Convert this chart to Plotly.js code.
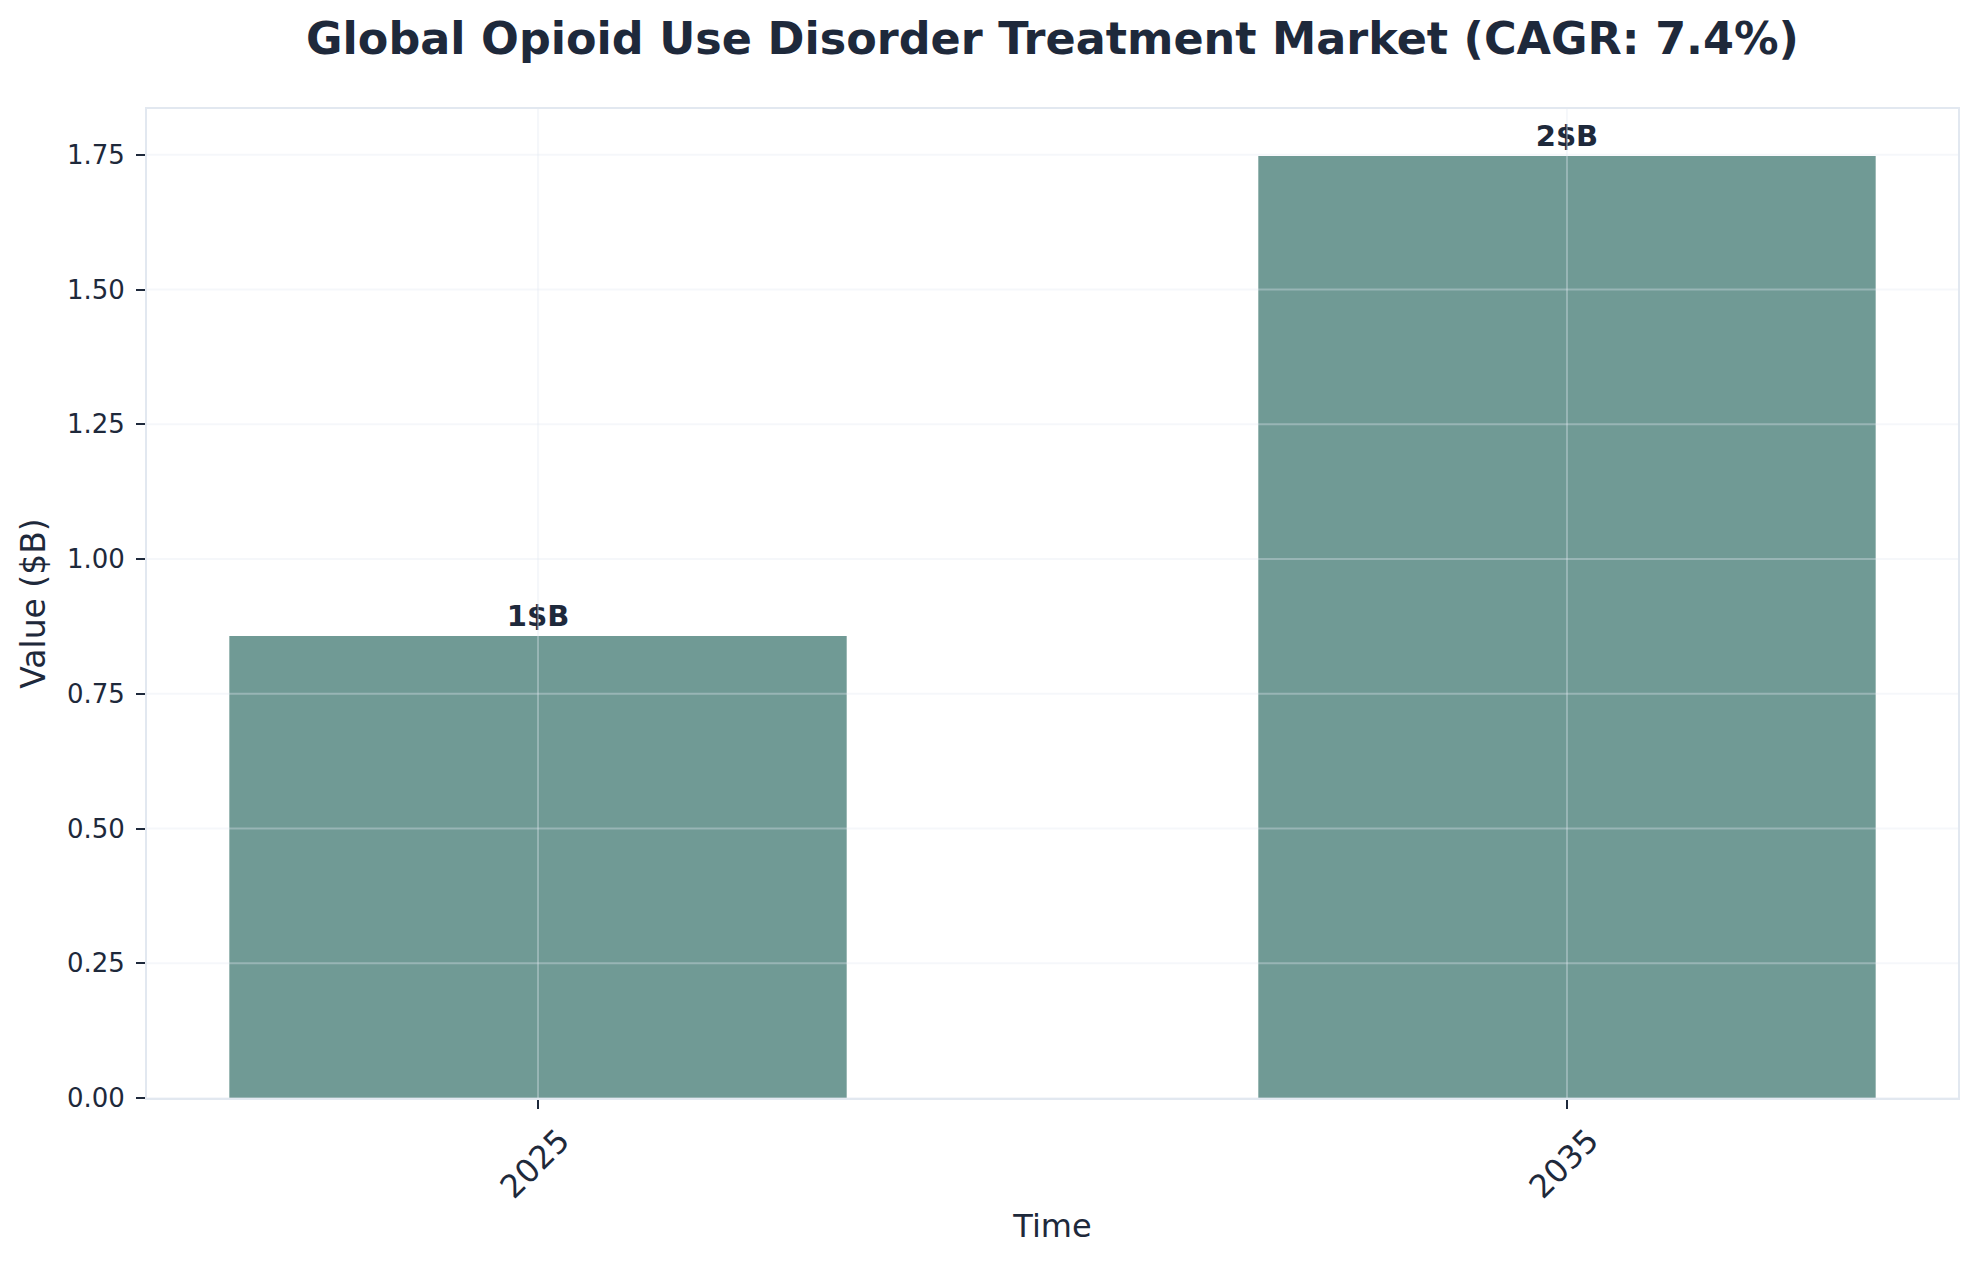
<!DOCTYPE html>
<html>
<head>
<meta charset="utf-8">
<script src="https://cdn.plot.ly/plotly-3.0.1.min.js"></script>
<style>
  html, body { margin: 0; padding: 0; background: #ffffff; }
  #chart { width: 1977px; height: 1265px; }
</style>
</head>
<body>
<div id="chart"></div>
<script>
// Chart data
var years = ["2025", "2035"];
var marketValues = [0.857, 1.748];
var barLabels = ["1$B", "2$B"];
var yTickValues = [0, 0.25, 0.5, 0.75, 1.0, 1.25, 1.5, 1.75];

var ink = "#1e293b";
var spine = "#e2e8f0";
var gridCol = "rgba(226,232,240,0.35)";
var yMax = 1.835;

// grid drawn above the bars, like the original
var gridShapes = [];
yTickValues.forEach(function (v) {
  gridShapes.push({
    type: "line", layer: "above",
    xref: "paper", x0: 0, x1: 1,
    yref: "y", y0: v, y1: v,
    line: { color: gridCol, width: 2 }
  });
});
years.forEach(function (yr, i) {
  // category axis: position i is the i-th year
  gridShapes.push({
    type: "line", layer: "above",
    xref: "x", x0: i, x1: i,
    yref: "paper", y0: 0, y1: 1,
    line: { color: gridCol, width: 2 }
  });
});

var data = [
  {
    type: "bar",
    x: years,
    y: marketValues,
    width: 0.6,
    marker: { color: "#709a95", line: { width: 0 } },
    text: barLabels,
    textposition: "outside",
    cliponaxis: false,
    textfont: { family: "DejaVu Sans", size: 29, color: ink, weight: "bold" },
    hoverinfo: "x+y"
  }
];

var layout = {
  width: 1977,
  height: 1265,
  paper_bgcolor: "#ffffff",
  plot_bgcolor: "#ffffff",
  font: { family: "DejaVu Sans", color: ink },
  showlegend: false,
  margin: { l: 147, r: 19, t: 109, b: 167, pad: 0 },
  title: {
    text: "<b>Global Opioid Use Disorder Treatment Market (CAGR: 7.4%)</b>",
    font: { family: "DejaVu Sans", size: 44.5, color: ink },
    x: 0.5,
    xref: "paper",
    y: 0.970,
    yref: "container",
    yanchor: "middle"
  },
  xaxis: {
    type: "category",
    categoryorder: "array",
    categoryarray: years,
    range: [-0.38, 1.38],
    showgrid: false,
    zeroline: false,
    showline: true,
    mirror: true,
    linecolor: spine,
    linewidth: 2,
    ticks: "outside",
    ticklen: 9,
    tickwidth: 2,
    tickcolor: ink,
    tickangle: -45,
    ticklabelshift: 22,
    tickfont: { family: "DejaVu Sans", size: 32, color: ink },
    title: { text: "Time", font: { family: "DejaVu Sans", size: 32, color: ink }, standoff: 10 }
  },
  yaxis: {
    range: [0, yMax],
    tickvals: yTickValues,
    tickformat: ".2f",
    showgrid: false,
    zeroline: false,
    showline: true,
    mirror: true,
    linecolor: spine,
    linewidth: 2,
    ticks: "outside",
    ticklen: 9,
    tickwidth: 2,
    tickcolor: ink,
    ticklabelstandoff: 6,
    tickfont: { family: "DejaVu Sans", size: 26, color: ink },
    title: { text: "Value ($B)", font: { family: "DejaVu Sans", size: 33, color: ink }, standoff: 11 }
  },
  shapes: gridShapes
};

Plotly.newPlot("chart", data, layout, { displayModeBar: false, staticPlot: true });
</script>
</body>
</html>
